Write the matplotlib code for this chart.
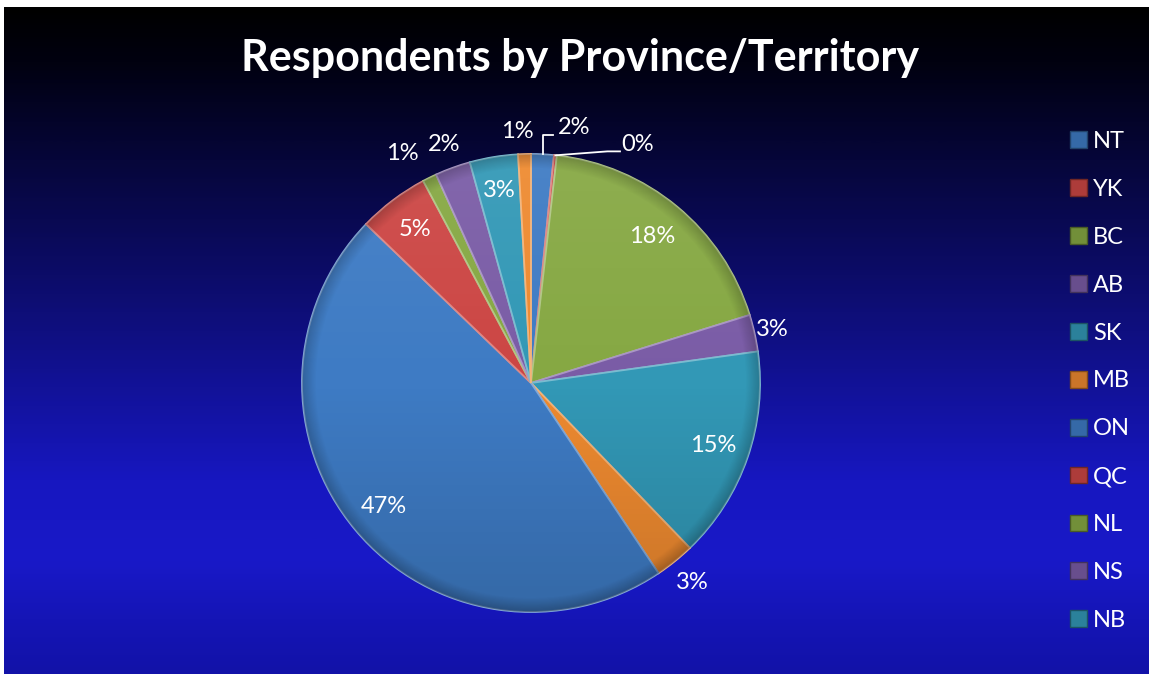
import numpy as np
import matplotlib.pyplot as plt
from matplotlib.patches import Patch, Circle
from matplotlib.colors import LinearSegmentedColormap, to_rgb

# share of respondents (%) per province / territory, clockwise from 12 o'clock
regions = ['NT', 'YK', 'BC', 'AB', 'SK', 'MB', 'ON', 'QC', 'NL', 'NS', 'NB', 'PE']
shares = [1.6, 0.2, 18.4, 2.6, 15.0, 2.8, 46.6, 5.0, 1.0, 2.5, 3.4, 0.9]
legend_regions = regions[:11]   # the legend in the original is cut after NB

theme = ['#3e7bc4', '#cc4644', '#86a843', '#7a5ca6', '#3298b6', '#ee8a30']
slice_colors = [theme[i % 6] for i in range(len(regions))]

# label radius (in pie radii) and angular nudge (deg) per slice; None = leader line
label_dist = [None, None, 0.83, 1.08, 0.84, 1.12, 0.84, 0.84, 1.15, 1.11, 0.85, 1.10]
label_nudge = [0, 0, 0, 0, 0, 0, 0, 0, 3.0, 0, 0, 1.6]

W, H = 1151, 675
plt.rcParams['font.family'] = ['Lato', 'DejaVu Sans']

fig = plt.figure(figsize=(W / 100, H / 100), dpi=100, facecolor='white')

# background gradient
bg = fig.add_axes([4 / W, 1 / H, (1149 - 4) / W, (668 - 1) / H])
bg_cmap = LinearSegmentedColormap.from_list('bg', [
    (0.0, '#000000'), (0.08, '#010110'), (0.2, '#050532'), (0.43, '#0d0d70'),
    (0.71, '#1717c0'), (0.83, '#1919c8'), (0.92, '#1515b6'), (1.0, '#1212a8')])
bg.imshow(np.linspace(0, 1, 400)[:, None], aspect='auto', cmap=bg_cmap,
          extent=[0, 1, 0, 1])
bg.axis('off')


def shade(c, f):
    r = np.array(to_rgb(c))
    if f > 0:
        return tuple(r + (1 - r) * f)
    return tuple(r * (1 + f))


# pie
R, cx, cy = 229, 531, 383
half = 1.25 * R
ax = fig.add_axes([(cx - half) / W, (H - cy - half) / H, 2 * half / W, 2 * half / H])
ax.set_xlim(-1.25, 1.25)
ax.set_ylim(-1.25, 1.25)
ax.axis('off')

wedges, _ = ax.pie(shares, colors=slice_colors, startangle=90, counterclock=False,
                   radius=1, wedgeprops=dict(linewidth=1.3))
for w, c in zip(wedges, slice_colors):
    w.set_edgecolor(shade(c, 0.35))

# soft lighting: light on top, darker bottom and rim
n = 400
xx, yy = np.meshgrid(np.linspace(-1, 1, n), np.linspace(1, -1, n))
light = np.zeros((n, n, 4))
light[..., :3] = 1.0
light[..., 3] = np.clip(yy, 0, 1) * 0.07
dark = np.zeros((n, n, 4))
rr = np.sqrt(xx ** 2 + yy ** 2)
dark[..., 3] = np.clip(-yy, 0, 1) * 0.15 + np.clip((rr - 0.94) / 0.06, 0, 1) * 0.2
clip = Circle((0, 0), 1, transform=ax.transData)
for img in (light, dark):
    im = ax.imshow(img, extent=[-1, 1, -1, 1], zorder=3)
    im.set_clip_path(clip)
ax.set_xlim(-1.25, 1.25)
ax.set_ylim(-1.25, 1.25)

# percentage labels
for i, w in enumerate(wedges):
    txt = '%.0f%%' % shares[i]
    mid = np.radians((w.theta1 + w.theta2) / 2 + label_nudge[i])
    if label_dist[i] is not None:
        d = label_dist[i]
        ax.text(d * np.cos(mid), d * np.sin(mid), txt, color='white', fontsize=17,
                ha='center', va='center', zorder=5)

# NT and YK with leader lines
p0 = np.radians((wedges[0].theta1 + wedges[0].theta2) / 2)
x0, y0 = np.cos(p0), np.sin(p0)
lx, ly = 1.14 * np.cos(np.radians(80.4)), 1.13 * np.sin(np.radians(80.4))
ax.plot([x0, x0, lx - 0.092], [y0, ly - 0.03, ly - 0.03], color='white', lw=1.3, zorder=5)
ax.text(lx, ly, '%.0f%%' % shares[0], color='white', fontsize=17,
        ha='center', va='center', zorder=5)

p1 = np.radians((wedges[1].theta1 + wedges[1].theta2) / 2)
x1, y1 = np.cos(p1), np.sin(p1)
lx, ly = 1.14 * np.cos(np.radians(66.0)), 1.14 * np.sin(np.radians(66.0))
ax.plot([x1, lx - 0.13, lx - 0.075], [y1, ly - 0.03, ly - 0.03], color='white', lw=1.3, zorder=5)
ax.text(lx, ly, '%.0f%%' % shares[1], color='white', fontsize=17,
        ha='center', va='center', zorder=5)

# title
fig.text(580 / W, 1 - 71 / H, 'Respondents by Province/Territory', color='white',
         fontsize=31, fontweight='bold', ha='center', va='baseline')

# legend
handles = [Patch(facecolor=shade(c, -0.15), edgecolor=shade(c, -0.45), linewidth=1)
           for c in slice_colors[:len(legend_regions)]]
fig.legend(handles, legend_regions, loc='center left',
           bbox_to_anchor=(1070 / W, 1 - 381 / H), bbox_transform=fig.transFigure,
           frameon=False, fontsize=17, labelcolor='white', borderpad=0, borderaxespad=0,
           handlelength=0.72, handleheight=0.72, handletextpad=0.25, labelspacing=1.14)

fig.savefig('out.png', dpi=100, facecolor='white')
